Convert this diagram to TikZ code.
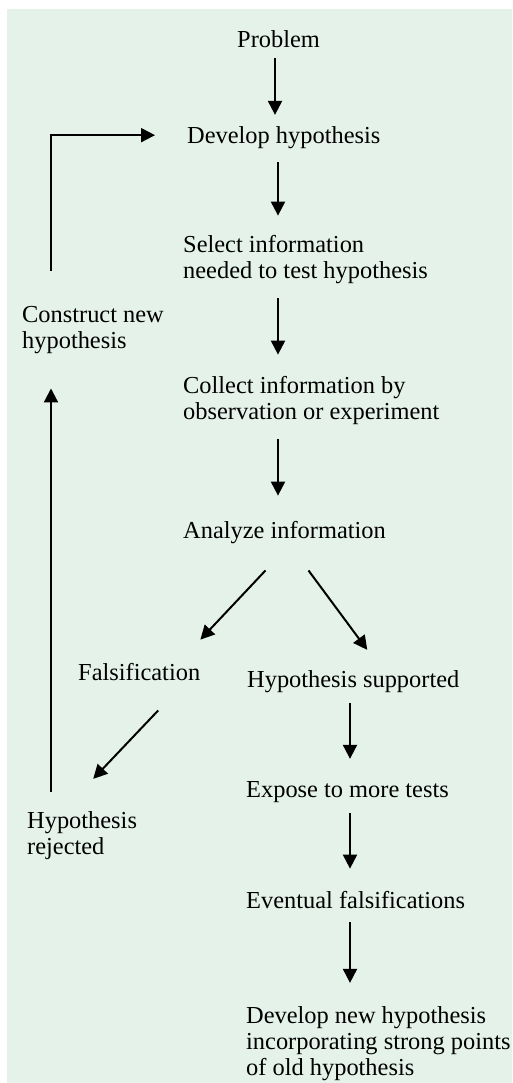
\documentclass[tikz,border=0pt]{standalone}
\usepackage{fontspec}
\setmainfont{Liberation Serif}
\usepackage{tikz}
\usetikzlibrary{arrows.meta,calc}
\definecolor{sfondo}{RGB}{228,242,234}

\begin{document}
\begin{tikzpicture}[x=1pt,y=-1pt,>={Triangle[width=14pt,length=14pt]},
	txt/.style = {anchor=base west,align=left,inner sep=0pt,font=\fontsize{24.4}{26}\selectfont},
	freccia/.style = {->,line width=2pt,shorten <=13pt,shorten >=19pt}
	]
	\useasboundingbox (0,0) rectangle (512,1083);
	\fill[sfondo] (7,9) rectangle (512,1083);
	%COLONNE DELLE FRECCE
	\coordinate (asse) at (278,0);
	\coordinate (asse2) at (350,0);
	\coordinate (ritorno) at (51,0);
	%NODI (base = ultima riga)
	\node[txt] (prob) at (237,48) {Problem};
	\node[txt] (dev) at (187,144) {Develop hypothesis};
	\node[txt] (sel) at (183,278) {Select information\\needed to test hypothesis};
	\node[txt] (coll) at (183,419) {Collect information by\\observation or experiment};
	\node[txt] (ana) at (183,538) {Analyze information};
	\node[txt] (fals) at (78,680) {Falsification};
	\node[txt] (supp) at (247,687) {Hypothesis supported};
	\node[txt] (expo) at (246,797) {Expose to more tests};
	\node[txt] (event) at (246,908) {Eventual falsifications};
	\node[txt] (nuova) at (246,1075) {Develop new hypothesis\\incorporating strong points\\of old hypothesis};
	\node[txt] (cons) at (22,348) {Construct new\\hypothesis};
	\node[txt] (rej) at (27,854) {Hypothesis\\rejected};
	%COLONNA CENTRALE
	\draw[freccia,shorten <=10pt,shorten >=12pt] (prob.south -| ritorno) ++(224,0) coordinate (p0) (p0) -- (p0 |- dev.north);
	\draw[freccia] (dev.south -| asse) -- (sel.north -| asse);
	\draw[freccia,shorten <=15pt,shorten >=21pt] (sel.south -| asse) -- (coll.north -| asse);
	\draw[freccia,shorten <=15pt,shorten >=25pt] (coll.south -| asse) -- (ana.north -| asse);
	%BIFORCAZIONE
	\draw[->,line width=2pt] ($(ana.south)+(-19,27)$) -- ($(fals.north east)+(0,-23)$);
	\draw[->,line width=2pt] ($(ana.south)+(24,27)$) -- ($(supp.north)+(14,-20)$);
	\draw[->,line width=2pt] ($(fals.south)+(19,30)$) -- ($(rej.north east)+(-44,-32)$);
	%COLONNA DESTRA
	\draw[freccia,shorten <=11pt,shorten >=22pt] (supp.south -| asse2) -- (expo.north -| asse2);
	\draw[freccia,shorten <=11pt,shorten >=22pt] (expo.south -| asse2) -- (event.north -| asse2);
	\draw[freccia,shorten <=14pt,shorten >=23pt] (event.south -| asse2) -- (nuova.north -| asse2);
	%RITORNO
	\draw[freccia,shorten <=19pt,shorten >=35pt] (rej.north -| ritorno) -- (cons.south -| ritorno);
	\draw[->,line width=2pt,shorten <=35pt,shorten >=32pt] (cons.north -| ritorno) -- ([yshift=3pt]ritorno |- dev.west) -- ([yshift=3pt]dev.west);
\end{tikzpicture}
\end{document}
